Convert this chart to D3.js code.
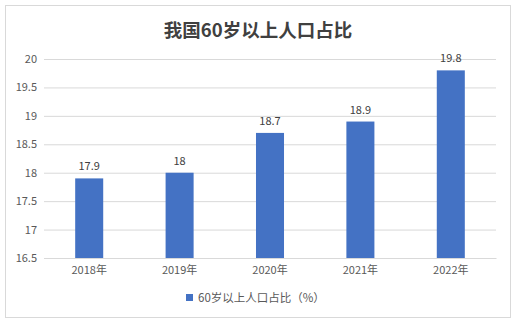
<!DOCTYPE html>
<html><head><meta charset="utf-8">
<script src="https://cdn.jsdelivr.net/npm/d3@7"></script>
<style>body{margin:0;background:#fff;}svg{display:block;}</style>
</head><body>
<script>
const categories = ["2018年","2019年","2020年","2021年","2022年"];
const values = [17.9, 18, 18.7, 18.9, 19.8];
const yTicks = [16.5, 17, 17.5, 18, 18.5, 19, 19.5, 20];
const title = "我国60岁以上人口占比";
const seriesName = "60岁以上人口占比（%）";

const W = 515, H = 324;
const font = "'Microsoft YaHei','Noto Sans CJK SC','DejaVu Sans',sans-serif";
const svg = d3.select("body").append("svg").attr("width", W).attr("height", H);
svg.append("rect").attr("x", 5.5).attr("y", 5.5).attr("width", 505).attr("height", 312)
  .attr("fill", "#fff").attr("stroke", "#d9d9d9");

const m = {l: 44, r: 496, t: 59, b: 258};
const x = d3.scaleBand().domain(categories).range([m.l, m.r]).paddingInner(0.69).paddingOuter(0.345);
const y = d3.scaleLinear().domain([16.5, 20]).range([m.b, m.t]);

svg.append("text").attr("x", 258).attr("y", 37).attr("text-anchor", "middle")
  .attr("font-family", font).attr("font-size", 18.5).attr("font-weight", "bold")
  .attr("fill", "#404040").text(title);

const yAxis = svg.append("g").attr("transform", `translate(${m.l},0)`)
  .call(d3.axisLeft(y).tickValues(yTicks).tickSize(-(m.r - m.l)).tickFormat(d => d));
yAxis.select(".domain").remove();
yAxis.selectAll(".tick line").attr("stroke", "#d9d9d9");
yAxis.selectAll(".tick text").attr("font-family", font).attr("font-size", 11)
  .attr("fill", "#595959").attr("x", -7);

svg.selectAll(".bar").data(values).enter().append("rect")
  .attr("x", (d, i) => x(categories[i])).attr("width", x.bandwidth())
  .attr("y", d => y(d)).attr("height", d => y(16.5) - y(d)).attr("fill", "#4472c4");

svg.selectAll(".lbl").data(values).enter().append("text")
  .attr("x", (d, i) => x(categories[i]) + x.bandwidth() / 2).attr("y", d => y(d) - 8)
  .attr("text-anchor", "middle").attr("font-family", font).attr("font-size", 11)
  .attr("fill", "#404040").text(d => d);

const xAxis = svg.append("g").attr("transform", `translate(0,${m.b})`)
  .call(d3.axisBottom(x).tickSize(0).tickPadding(8));
xAxis.select(".domain").attr("stroke", "#d9d9d9");
xAxis.selectAll(".tick text").attr("font-family", font).attr("font-size", 11).attr("fill", "#595959");

svg.append("rect").attr("x", 186).attr("y", 294).attr("width", 7).attr("height", 7).attr("fill", "#4472c4");
svg.append("text").attr("x", 198).attr("y", 302).attr("font-family", font).attr("font-size", 11.5)
  .attr("fill", "#595959").text(seriesName);
</script>
</body></html>
